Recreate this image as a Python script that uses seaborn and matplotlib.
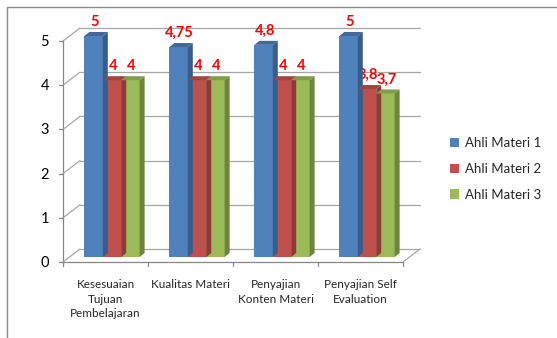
import numpy as np
import pandas as pd
import matplotlib
matplotlib.use("Agg")
import matplotlib.pyplot as plt
import seaborn as sns
from matplotlib.patches import Polygon, Patch, Rectangle
from matplotlib.transforms import offset_copy, IdentityTransform

# === Data ===
categories = ["Kesesuaian\nTujuan\nPembelajaran", "Kualitas Materi",
              "Penyajian\nKonten Materi", "Penyajian Self\nEvaluation"]
series = ["Ahli Materi 1", "Ahli Materi 2", "Ahli Materi 3"]
ahli_1 = [5, 4.75, 4.8, 5]
ahli_2 = [4, 4, 4, 3.8]
ahli_3 = [4, 4, 4, 3.7]
yticks = [0, 1, 2, 3, 4, 5]

front_cols = ["#4F81BD", "#C0504D", "#9BBB59"]
side_cols = ["#385D8A", "#8C3B38", "#6E8540"]
top_cols = ["#41699A", "#A3433F", "#819D4A"]

df = pd.DataFrame({
    "cat": np.repeat(categories, 3),
    "series": series * 4,
    "val": [v for trio in zip(ahli_1, ahli_2, ahli_3) for v in trio],
})

sns.set_style("white")
plt.rcParams["font.family"] = ["Lato", "DejaVu Sans"]

DPI = 100
fig = plt.figure(figsize=(5.57, 3.38), dpi=DPI)
W, H = 557, 338
ax = fig.add_axes([69.5 / W, 81 / H, 340 / W, 221 / H])

sns.barplot(data=df, x="cat", y="val", hue="series", palette=front_cols,
            width=0.65, saturation=1, linewidth=0, ax=ax, legend=False)
ax.set_xlim(-0.5, 3.5)
ax.set_ylim(0, 5)
ax.axis("off")

# depth offsets (pixels): front plane and back wall relative to the bar plane
FX, FY = -6.5, -5
BX, BY = 10.5, 8
DX, DY = 5, 4  # bar depth

front = offset_copy(ax.transData, fig=fig, x=FX, y=FY, units="dots")
back = offset_copy(ax.transData, fig=fig, x=BX, y=BY, units="dots")
grid_c = "#A6A6A6"
axis_c = "#868686"

def disp(x, y, ox=0, oy=0):
    px, py = ax.transData.transform((x, y))
    return px + ox, py + oy

def seg(p0, p1, color, z=1):
    line = plt.Line2D([p0[0], p1[0]], [p0[1], p1[1]], color=color, lw=0.9,
                      transform=IdentityTransform(), zorder=z)
    fig.add_artist(line)

# back wall gridlines and side diagonals
for y in yticks:
    ax.plot([-0.5, 3.5], [y, y], color=grid_c, lw=0.9, transform=back,
            clip_on=False, zorder=0)
    seg(disp(-0.5, y, FX, FY), disp(-0.5, y, BX, BY), grid_c)
    # y tick and label on front plane
    seg(disp(-0.5, y, FX, FY), disp(-0.5, y, FX - 4, FY), axis_c)
    ax.text(-0.5, y, str(y), transform=offset_copy(ax.transData, fig=fig, x=FX - 14, y=FY - 1, units="dots"),
            ha="right", va="center", fontsize=10.5, color="black")

# floor
seg(disp(3.5, 0, FX, FY), disp(3.5, 0, BX, BY), grid_c)
ax.plot([-0.5, 3.5], [0, 0], color=axis_c, lw=0.9, transform=front, clip_on=False)
ax.plot([-0.5, -0.5], [0, 5], color=axis_c, lw=0.9, transform=front, clip_on=False)
for xb in [-0.5, 0.5, 1.5, 2.5, 3.5]:
    seg(disp(xb, 0, FX, FY), disp(xb, 0, FX, FY - 4), axis_c)

# 3D faces for every bar
bars = sorted(ax.patches, key=lambda p: p.get_x())
for i, bar in enumerate(bars):
    k = i % 3
    x0, w, h = bar.get_x(), bar.get_width(), bar.get_height()
    bar.set_zorder(10 + 3 * i)
    side = [disp(x0 + w, 0), disp(x0 + w, h), disp(x0 + w, h, DX, DY), disp(x0 + w, 0, DX, DY)]
    top = [disp(x0, h), disp(x0 + w, h), disp(x0 + w, h, DX, DY), disp(x0, h, DX, DY)]
    fig.add_artist(Polygon(side, closed=True, facecolor=side_cols[k], edgecolor="none",
                           transform=IdentityTransform(), zorder=10 + 3 * i + 1))
    fig.add_artist(Polygon(top, closed=True, facecolor=top_cols[k], edgecolor="none",
                           transform=IdentityTransform(), zorder=10 + 3 * i + 2))
    lab = f"{h:g}".replace(".", ",")
    ax.text(x0 + w / 2, h, lab, transform=offset_copy(ax.transData, fig=fig, x=1, y=10, units="dots"),
            ha="center", va="baseline", fontsize=10.5, fontweight="bold", color="red", zorder=100)

# category labels on front plane
for j, c in enumerate(categories):
    ax.text(j, 0, c, transform=offset_copy(ax.transData, fig=fig, x=FX, y=FY - 17, units="dots"),
            ha="center", va="top", fontsize=8.5, linespacing=1.4)

# legend
handles = [Patch(facecolor=c, edgecolor="none") for c in front_cols]
fig.legend(handles, series, loc="upper left", bbox_to_anchor=(450 / W, 1 - 137 / H),
           frameon=False, fontsize=9.5, handlelength=0.7, handleheight=0.7,
           handletextpad=0.45, labelspacing=1.05, borderpad=0, borderaxespad=0)

# chart border
fig.add_artist(Rectangle((7 / W, -0.1), 1.2, 1.1 - 7 / H, transform=fig.transFigure,
                         fill=False, edgecolor="#8C8C8C", lw=1))

fig.savefig("out.png", dpi=DPI)
